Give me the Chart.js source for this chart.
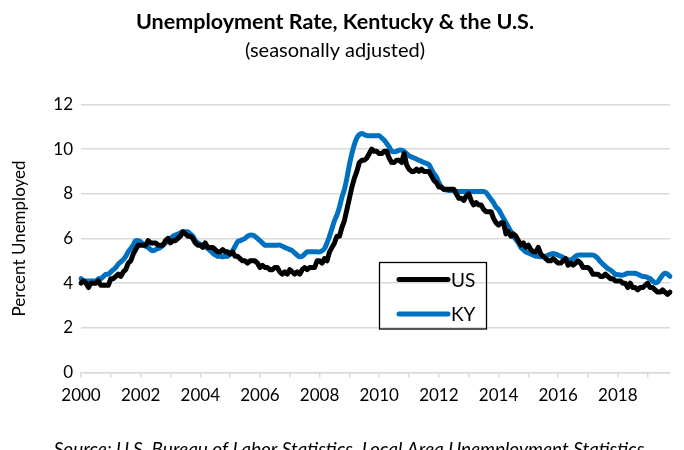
<!DOCTYPE html>
<html>
<head>
<meta charset="utf-8">
<script src="https://cdn.jsdelivr.net/npm/chart.js@4.4.0/dist/chart.umd.min.js"></script>
<style>
  html, body { margin: 0; padding: 0; background: #fff; }
</style>
</head>
<body>
<canvas id="urChart" width="684" height="450"></canvas>
<script>
// monthly, Jan 2000 - Oct 2019
const years = [2000, 2001, 2002, 2003, 2004, 2005, 2006, 2007, 2008, 2009,
               2010, 2011, 2012, 2013, 2014, 2015, 2016, 2017, 2018, 2019];
const lastMonth2019 = 10;

const usRate = [
  4.0, 4.1, 4.0, 3.8, 4.0, 4.0, 4.0, 4.1, 3.9, 3.9, 3.9, 3.9,   // 2000
  4.2, 4.2, 4.3, 4.4, 4.3, 4.5, 4.6, 4.9, 5.0, 5.3, 5.5, 5.7,   // 2001
  5.7, 5.7, 5.7, 5.9, 5.8, 5.8, 5.8, 5.7, 5.7, 5.7, 5.9, 6.0,   // 2002
  5.8, 5.9, 5.9, 6.0, 6.1, 6.3, 6.2, 6.1, 6.1, 6.0, 5.8, 5.7,   // 2003
  5.7, 5.6, 5.8, 5.6, 5.6, 5.6, 5.5, 5.4, 5.4, 5.5, 5.4, 5.4,   // 2004
  5.3, 5.4, 5.2, 5.2, 5.1, 5.0, 5.0, 4.9, 5.0, 5.0, 5.0, 4.9,   // 2005
  4.7, 4.8, 4.7, 4.7, 4.6, 4.6, 4.7, 4.7, 4.5, 4.4, 4.5, 4.4,   // 2006
  4.6, 4.5, 4.4, 4.5, 4.4, 4.6, 4.7, 4.6, 4.7, 4.7, 4.7, 5.0,   // 2007
  5.0, 4.9, 5.1, 5.0, 5.4, 5.6, 5.8, 6.1, 6.1, 6.5, 6.8, 7.3,   // 2008
  7.8, 8.3, 8.7, 9.0, 9.4, 9.5, 9.5, 9.6, 9.8, 10.0, 9.9, 9.9,  // 2009
  9.8, 9.8, 9.9, 9.9, 9.6, 9.4, 9.4, 9.5, 9.5, 9.4, 9.8, 9.3,   // 2010
  9.1, 9.0, 9.0, 9.1, 9.0, 9.1, 9.0, 9.0, 9.0, 8.8, 8.6, 8.5,   // 2011
  8.3, 8.3, 8.2, 8.2, 8.2, 8.2, 8.2, 8.0, 7.8, 7.8, 7.7, 7.9,   // 2012
  8.0, 7.7, 7.5, 7.6, 7.5, 7.5, 7.3, 7.2, 7.2, 7.2, 6.9, 6.7,   // 2013
  6.6, 6.7, 6.7, 6.2, 6.3, 6.1, 6.2, 6.1, 5.9, 5.7, 5.8, 5.6,   // 2014
  5.7, 5.5, 5.4, 5.4, 5.6, 5.3, 5.2, 5.1, 5.0, 5.0, 5.1, 5.0,   // 2015
  4.9, 4.9, 5.0, 5.1, 4.8, 4.9, 4.8, 4.9, 5.0, 4.9, 4.7, 4.7,   // 2016
  4.7, 4.6, 4.4, 4.4, 4.4, 4.3, 4.3, 4.4, 4.3, 4.2, 4.2, 4.1,   // 2017
  4.1, 4.1, 4.0, 4.0, 3.8, 4.0, 3.8, 3.8, 3.7, 3.8, 3.8, 3.9,   // 2018
  4.0, 3.8, 3.8, 3.7, 3.6, 3.6, 3.7, 3.6, 3.5, 3.6              // 2019
];

const kyRate = [
  4.2, 4.1, 4.1, 4.1, 4.1, 4.1, 4.1, 4.2, 4.2, 4.3, 4.4, 4.4,   // 2000
  4.5, 4.6, 4.7, 4.85, 4.95, 5.05, 5.2, 5.4, 5.55, 5.7, 5.9, 5.9, // 2001
  5.85, 5.75, 5.65, 5.6, 5.5, 5.45, 5.5, 5.55, 5.6, 5.7, 5.8, 5.9, // 2002
  6.0, 6.1, 6.15, 6.2, 6.25, 6.3, 6.3, 6.3, 6.2, 6.1, 5.9, 5.8,  // 2003
  5.75, 5.7, 5.63, 5.55, 5.45, 5.35, 5.26, 5.2, 5.2, 5.18, 5.2, 5.2, // 2004
  5.3, 5.45, 5.65, 5.85, 5.9, 5.95, 6.0, 6.1, 6.15, 6.15, 6.1, 6.0, // 2005
  5.9, 5.8, 5.7, 5.7, 5.7, 5.7, 5.7, 5.7, 5.7, 5.65, 5.6, 5.55,  // 2006
  5.5, 5.45, 5.35, 5.25, 5.18, 5.2, 5.3, 5.4, 5.4, 5.4, 5.4, 5.4, // 2007
  5.4, 5.45, 5.55, 5.8, 6.1, 6.45, 6.8, 7.05, 7.4, 7.85, 8.2, 8.7, // 2008
  9.3, 9.8, 10.2, 10.5, 10.65, 10.7, 10.65, 10.6, 10.6, 10.6, 10.6, 10.6, // 2009
  10.6, 10.5, 10.4, 10.25, 10.1, 9.9, 9.88, 9.9, 9.95, 9.95, 9.9, 9.8, // 2010
  9.7, 9.65, 9.6, 9.55, 9.5, 9.45, 9.4, 9.36, 9.3, 9.1, 8.9, 8.75, // 2011
  8.5, 8.3, 8.2, 8.17, 8.15, 8.15, 8.15, 8.1, 8.1, 8.1, 8.1, 8.1, // 2012
  8.1, 8.1, 8.1, 8.1, 8.1, 8.1, 8.1, 8.05, 7.9, 7.75, 7.6, 7.4,  // 2013
  7.3, 7.1, 6.9, 6.7, 6.5, 6.3, 6.1, 5.95, 5.8, 5.6, 5.5, 5.4,   // 2014
  5.35, 5.3, 5.25, 5.2, 5.2, 5.18, 5.2, 5.2, 5.25, 5.3, 5.33, 5.3, // 2015
  5.25, 5.2, 5.15, 5.1, 5.05, 5.03, 5.1, 5.2, 5.25, 5.26, 5.26, 5.26, // 2016
  5.26, 5.26, 5.25, 5.2, 5.1, 4.96, 4.85, 4.75, 4.65, 4.59, 4.5, 4.4, // 2017
  4.38, 4.36, 4.36, 4.4, 4.44, 4.44, 4.44, 4.44, 4.4, 4.35, 4.3, 4.29, // 2018
  4.25, 4.2, 4.1, 4.02, 4.05, 4.2, 4.36, 4.44, 4.4, 4.3          // 2019
];

const months = [];
years.forEach(y => {
  const n = y === 2019 ? lastMonth2019 : 12;
  for (let m = 1; m <= n; m++) months.push(y + "-" + String(m).padStart(2, "0"));
});

const FONT = "Lato, 'Noto Sans', sans-serif";
const GRID = "#D9D9D9";
const US_COLOR = "#000000";
const KY_COLOR = "#0070C0";

// legend box and source line drawn on the canvas
const extras = {
  id: "extras",
  afterDraw(chart) {
    const ctx = chart.ctx;
    ctx.save();
    ctx.strokeStyle = "#000";
    ctx.lineWidth = 1.3;
    ctx.strokeRect(379.5, 262.5, 107, 66.5);
    const items = chart.data.datasets.map(d => [d.label, d.borderColor]);
    items.forEach(([label, color], i) => {
      const y = 279.5 + i * 34.5;
      ctx.strokeStyle = color;
      ctx.lineWidth = 5;
      ctx.lineCap = "round";
      ctx.beginPath();
      ctx.moveTo(399, y);
      ctx.lineTo(448, y);
      ctx.stroke();
      ctx.fillStyle = "#000";
      ctx.font = "19px " + FONT;
      ctx.textBaseline = "middle";
      ctx.textAlign = "left";
      ctx.fillText(label, 451, y + 1);
    });
    ctx.font = "italic 19px " + FONT;
    ctx.textAlign = "center";
    ctx.textBaseline = "middle";
    ctx.fillText("Source: U.S. Bureau of Labor Statistics, Local Area Unemployment Statistics", 349, 450);
    ctx.restore();
  }
};

new Chart(document.getElementById("urChart"), {
  type: "line",
  data: {
    labels: months,
    datasets: [
      { label: "US", data: usRate, borderColor: US_COLOR, borderWidth: 5, pointRadius: 0, tension: 0,
        borderCapStyle: "round", borderJoinStyle: "round" },
      { label: "KY", data: kyRate, borderColor: KY_COLOR, borderWidth: 5, pointRadius: 0, tension: 0.3,
        borderCapStyle: "round", borderJoinStyle: "round" }
    ]
  },
  options: {
    responsive: false,
    animation: false,
    layout: { padding: { top: 0, right: 14, bottom: 0, left: 0 } },
    plugins: {
      legend: { display: false },
      tooltip: { enabled: false },
      title: {
        display: true,
        text: "Unemployment Rate, Kentucky & the U.S.",
        color: "#000",
        font: { family: FONT, size: 21.5, weight: "bold" },
        padding: { top: 9, bottom: 4 }
      },
      subtitle: {
        display: true,
        text: "(seasonally adjusted)",
        color: "#000",
        font: { family: FONT, size: 20 },
        padding: { top: 0, bottom: 41.6 }
      }
    },
    scales: {
      x: {
        afterFit: s => { s.height = 77.5; },
        grid: {
          drawOnChartArea: false,
          tickLength: 5,
          tickColor: c => (c.index % 12 === 0 ? GRID : "rgba(0,0,0,0)"),
          lineWidth: 1.5
        },
        border: { color: GRID, width: 1.5 },
        ticks: {
          autoSkip: false,
          maxRotation: 0,
          padding: 8,
          color: "#000",
          font: { family: FONT, size: 17 },
          callback: (v, i) => (i % 24 === 0 ? months[i].slice(0, 4) : "")
        }
      },
      y: {
        min: 0,
        max: 12,
        afterFit: s => { s.width = 81; },
        grid: { color: GRID, lineWidth: 1.5, drawTicks: false },
        border: { display: false },
        ticks: { stepSize: 2, padding: 8, color: "#000", font: { family: FONT, size: 17 } },
        title: {
          display: true,
          text: "Percent Unemployed",
          color: "#000",
          font: { family: FONT, size: 17 },
          padding: { top: 9, bottom: 0 }
        }
      }
    }
  },
  plugins: [extras]
});
</script>
</body>
</html>
